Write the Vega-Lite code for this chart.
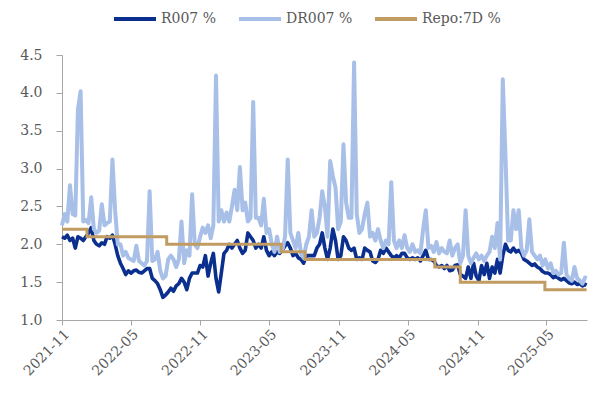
{
"$schema": "https://vega.github.io/schema/vega-lite/v6.json",
"width": 525, "height": 265,
"autosize": {"type": "none"},
"padding": {"left": 62, "top": 55, "right": 7, "bottom": 76},
"background": "white",
"config": {
 "view": {"stroke": null},
 "font": "DejaVu Serif",
 "axis": {"domainColor": "#a6a6a6", "tickColor": "#a6a6a6", "labelColor": "#595959", "labelFont": "DejaVu Serif", "labelFontSize": 14, "grid": false, "title": null}
},
"datasets": {
 "rates": [
{"d":"2021-11-12","r":2.10,"dr":2.25},{"d":"2021-11-19","r":2.08,"dr":2.40},{"d":"2021-11-26","r":2.12,"dr":2.30},{"d":"2021-12-03","r":2.05,"dr":2.78},
{"d":"2021-12-10","r":2.08,"dr":2.40},{"d":"2021-12-17","r":1.95,"dr":2.38},{"d":"2021-12-24","r":2.10,"dr":3.78},{"d":"2021-12-31","r":2.08,"dr":4.02},
{"d":"2022-01-07","r":2.05,"dr":2.30},{"d":"2022-01-14","r":2.10,"dr":2.32},{"d":"2022-01-21","r":2.15,"dr":2.28},{"d":"2022-01-28","r":2.22,"dr":2.62},
{"d":"2022-02-04","r":2.05,"dr":2.20},{"d":"2022-02-11","r":2.00,"dr":2.15},{"d":"2022-02-18","r":1.98,"dr":2.18},{"d":"2022-02-25","r":2.02,"dr":2.53},
{"d":"2022-03-04","r":2.00,"dr":2.25},{"d":"2022-03-11","r":2.10,"dr":2.28},{"d":"2022-03-18","r":2.08,"dr":2.30},{"d":"2022-03-25","r":2.12,"dr":3.12},
{"d":"2022-04-01","r":2.00,"dr":2.45},{"d":"2022-04-08","r":1.85,"dr":2.00},{"d":"2022-04-15","r":1.75,"dr":2.00},{"d":"2022-04-22","r":1.68,"dr":1.85},
{"d":"2022-04-29","r":1.60,"dr":1.90},{"d":"2022-05-06","r":1.65,"dr":1.82},{"d":"2022-05-13","r":1.62,"dr":1.80},{"d":"2022-05-20","r":1.65,"dr":1.78},
{"d":"2022-05-27","r":1.66,"dr":1.98},{"d":"2022-06-03","r":1.63,"dr":1.78},{"d":"2022-06-10","r":1.62,"dr":1.75},{"d":"2022-06-17","r":1.65,"dr":1.72},
{"d":"2022-06-24","r":1.68,"dr":1.78},{"d":"2022-07-01","r":1.68,"dr":2.70},{"d":"2022-07-08","r":1.55,"dr":1.78},{"d":"2022-07-15","r":1.52,"dr":1.80},
{"d":"2022-07-22","r":1.48,"dr":1.90},{"d":"2022-07-29","r":1.40,"dr":1.65},{"d":"2022-08-05","r":1.30,"dr":1.55},{"d":"2022-08-12","r":1.33,"dr":1.58},
{"d":"2022-08-19","r":1.37,"dr":1.80},{"d":"2022-08-26","r":1.42,"dr":1.85},{"d":"2022-09-02","r":1.38,"dr":1.80},{"d":"2022-09-09","r":1.45,"dr":1.70},
{"d":"2022-09-16","r":1.48,"dr":1.80},{"d":"2022-09-23","r":1.55,"dr":2.30},{"d":"2022-09-30","r":1.50,"dr":1.75},{"d":"2022-10-07","r":1.40,"dr":1.92},
{"d":"2022-10-14","r":1.55,"dr":1.85},{"d":"2022-10-21","r":1.62,"dr":2.66},{"d":"2022-10-28","r":1.62,"dr":2.00},{"d":"2022-11-04","r":1.62,"dr":1.95},
{"d":"2022-11-11","r":1.72,"dr":2.10},{"d":"2022-11-18","r":1.70,"dr":2.22},{"d":"2022-11-25","r":1.85,"dr":2.15},{"d":"2022-12-02","r":1.58,"dr":2.25},
{"d":"2022-12-09","r":1.75,"dr":2.08},{"d":"2022-12-16","r":1.88,"dr":2.25},{"d":"2022-12-23","r":1.55,"dr":4.23},{"d":"2022-12-30","r":1.37,"dr":2.30},
{"d":"2023-01-06","r":1.62,"dr":2.45},{"d":"2023-01-13","r":1.88,"dr":2.30},{"d":"2023-01-20","r":1.92,"dr":2.42},{"d":"2023-01-27","r":2.00,"dr":2.30},
{"d":"2023-02-03","r":1.95,"dr":2.50},{"d":"2023-02-10","r":2.00,"dr":2.72},{"d":"2023-02-17","r":2.05,"dr":2.45},{"d":"2023-02-24","r":1.95,"dr":3.02},
{"d":"2023-03-03","r":1.88,"dr":2.45},{"d":"2023-03-10","r":1.92,"dr":2.55},{"d":"2023-03-17","r":2.15,"dr":2.30},{"d":"2023-03-24","r":2.10,"dr":2.35},
{"d":"2023-03-31","r":2.05,"dr":3.88},{"d":"2023-04-07","r":1.95,"dr":2.35},{"d":"2023-04-14","r":2.00,"dr":2.35},{"d":"2023-04-21","r":1.95,"dr":2.25},
{"d":"2023-04-28","r":2.10,"dr":2.60},{"d":"2023-05-05","r":1.92,"dr":2.15},{"d":"2023-05-12","r":1.85,"dr":2.20},{"d":"2023-05-19","r":1.90,"dr":2.00},
{"d":"2023-05-26","r":1.85,"dr":1.90},{"d":"2023-06-02","r":1.90,"dr":2.10},{"d":"2023-06-09","r":1.88,"dr":1.90},{"d":"2023-06-16","r":1.92,"dr":1.92},
{"d":"2023-06-23","r":1.98,"dr":2.10},{"d":"2023-06-30","r":2.02,"dr":3.12},{"d":"2023-07-07","r":1.95,"dr":2.15},{"d":"2023-07-14","r":1.85,"dr":2.05},
{"d":"2023-07-21","r":1.88,"dr":1.95},{"d":"2023-07-28","r":1.82,"dr":2.15},{"d":"2023-08-04","r":1.80,"dr":1.88},{"d":"2023-08-11","r":1.75,"dr":1.82},
{"d":"2023-08-18","r":1.85,"dr":2.00},{"d":"2023-08-25","r":1.85,"dr":2.10},{"d":"2023-09-01","r":1.85,"dr":2.45},{"d":"2023-09-08","r":1.85,"dr":2.10},
{"d":"2023-09-15","r":1.95,"dr":2.15},{"d":"2023-09-22","r":2.00,"dr":2.35},{"d":"2023-09-29","r":2.15,"dr":2.70},{"d":"2023-10-06","r":1.95,"dr":2.50},
{"d":"2023-10-13","r":1.80,"dr":2.10},{"d":"2023-10-20","r":1.95,"dr":3.10},{"d":"2023-10-27","r":2.20,"dr":2.90},{"d":"2023-11-03","r":2.05,"dr":2.75},
{"d":"2023-11-10","r":1.80,"dr":2.20},{"d":"2023-11-17","r":1.85,"dr":2.30},{"d":"2023-11-24","r":2.10,"dr":3.32},{"d":"2023-12-01","r":2.05,"dr":2.55},
{"d":"2023-12-08","r":1.95,"dr":2.35},{"d":"2023-12-15","r":1.92,"dr":2.35},{"d":"2023-12-22","r":1.95,"dr":4.40},{"d":"2023-12-29","r":1.80,"dr":2.40},
{"d":"2024-01-05","r":1.82,"dr":2.15},{"d":"2024-01-12","r":1.80,"dr":2.20},{"d":"2024-01-19","r":1.95,"dr":2.40},{"d":"2024-01-26","r":1.92,"dr":2.55},
{"d":"2024-02-02","r":1.90,"dr":2.10},{"d":"2024-02-09","r":1.78,"dr":2.15},{"d":"2024-02-16","r":1.76,"dr":2.05},{"d":"2024-02-23","r":1.80,"dr":2.20},
{"d":"2024-03-01","r":1.92,"dr":2.05},{"d":"2024-03-08","r":1.88,"dr":1.95},{"d":"2024-03-15","r":1.95,"dr":2.05},{"d":"2024-03-22","r":1.90,"dr":2.00},
{"d":"2024-03-29","r":1.85,"dr":2.82},{"d":"2024-04-05","r":1.82,"dr":2.05},{"d":"2024-04-12","r":1.85,"dr":1.95},{"d":"2024-04-19","r":1.82,"dr":2.05},
{"d":"2024-04-26","r":1.88,"dr":1.95},{"d":"2024-05-03","r":1.88,"dr":2.12},{"d":"2024-05-10","r":1.82,"dr":1.95},{"d":"2024-05-17","r":1.80,"dr":1.90},
{"d":"2024-05-24","r":1.82,"dr":2.00},{"d":"2024-05-31","r":1.80,"dr":1.90},{"d":"2024-06-07","r":1.82,"dr":1.92},{"d":"2024-06-14","r":1.78,"dr":1.88},
{"d":"2024-06-21","r":1.85,"dr":2.20},{"d":"2024-06-28","r":1.92,"dr":2.45},{"d":"2024-07-05","r":1.80,"dr":1.95},{"d":"2024-07-12","r":1.80,"dr":1.98},
{"d":"2024-07-19","r":1.78,"dr":1.90},{"d":"2024-07-26","r":1.72,"dr":2.03},{"d":"2024-08-02","r":1.70,"dr":1.88},{"d":"2024-08-09","r":1.72,"dr":1.95},
{"d":"2024-08-16","r":1.68,"dr":1.90},{"d":"2024-08-23","r":1.72,"dr":1.88},{"d":"2024-08-30","r":1.65,"dr":2.05},{"d":"2024-09-06","r":1.66,"dr":1.85},
{"d":"2024-09-13","r":1.72,"dr":1.95},{"d":"2024-09-20","r":1.73,"dr":2.00},{"d":"2024-09-27","r":1.60,"dr":1.75},{"d":"2024-10-04","r":1.58,"dr":1.85},
{"d":"2024-10-11","r":1.55,"dr":2.45},{"d":"2024-10-18","r":1.70,"dr":1.85},{"d":"2024-10-25","r":1.55,"dr":1.75},{"d":"2024-11-01","r":1.75,"dr":1.82},
{"d":"2024-11-08","r":1.58,"dr":1.88},{"d":"2024-11-15","r":1.52,"dr":1.80},{"d":"2024-11-22","r":1.72,"dr":1.85},{"d":"2024-11-29","r":1.60,"dr":1.78},
{"d":"2024-12-06","r":1.75,"dr":1.85},{"d":"2024-12-13","r":1.55,"dr":1.90},{"d":"2024-12-20","r":1.70,"dr":2.10},{"d":"2024-12-27","r":1.62,"dr":1.95},
{"d":"2025-01-03","r":1.80,"dr":2.28},{"d":"2025-01-10","r":1.62,"dr":1.80},{"d":"2025-01-17","r":1.85,"dr":4.18},{"d":"2025-01-24","r":2.00,"dr":3.17},
{"d":"2025-01-31","r":1.92,"dr":2.05},{"d":"2025-02-07","r":1.90,"dr":2.05},{"d":"2025-02-14","r":1.95,"dr":2.45},{"d":"2025-02-21","r":1.90,"dr":2.20},
{"d":"2025-02-28","r":1.92,"dr":2.45},{"d":"2025-03-07","r":1.88,"dr":1.95},{"d":"2025-03-14","r":1.80,"dr":1.85},{"d":"2025-03-21","r":1.78,"dr":1.92},
{"d":"2025-03-28","r":1.75,"dr":2.33},{"d":"2025-04-04","r":1.72,"dr":1.90},{"d":"2025-04-11","r":1.74,"dr":1.85},{"d":"2025-04-18","r":1.70,"dr":1.80},
{"d":"2025-04-25","r":1.68,"dr":1.85},{"d":"2025-05-02","r":1.64,"dr":1.72},{"d":"2025-05-09","r":1.62,"dr":1.80},{"d":"2025-05-16","r":1.62,"dr":1.68},
{"d":"2025-05-23","r":1.60,"dr":1.75},{"d":"2025-05-30","r":1.56,"dr":1.62},{"d":"2025-06-06","r":1.58,"dr":1.65},{"d":"2025-06-13","r":1.55,"dr":1.60},
{"d":"2025-06-20","r":1.53,"dr":1.62},{"d":"2025-06-27","r":1.55,"dr":2.02},{"d":"2025-07-04","r":1.52,"dr":1.60},{"d":"2025-07-11","r":1.49,"dr":1.55},
{"d":"2025-07-18","r":1.48,"dr":1.52},{"d":"2025-07-25","r":1.50,"dr":1.70},{"d":"2025-08-01","r":1.47,"dr":1.55},{"d":"2025-08-08","r":1.48,"dr":1.52},
{"d":"2025-08-15","r":1.45,"dr":1.48},{"d":"2025-08-22","r":1.47,"dr":1.56},{"d":"2025-08-26","r":1.46,"dr":1.55}
 ],
 "repo": [
{"d":"2021-11-12","v":2.2},{"d":"2022-01-17","v":2.1},{"d":"2022-08-15","v":2.0},{"d":"2023-06-13","v":1.9},
{"d":"2023-08-15","v":1.8},{"d":"2024-07-22","v":1.7},{"d":"2024-09-27","v":1.5},{"d":"2025-05-08","v":1.4},{"d":"2025-08-26","v":1.4}
 ]
},
"encoding": {
 "x": {"field": "d", "type": "temporal",
  "scale": {"type": "utc", "domain": [{"year": 2021, "month": 11, "date": 12, "utc": true}, {"year": 2025, "month": 8, "date": 27, "utc": true}]},
  "axis": {"values": [
   {"year": 2021, "month": 11, "date": 12, "utc": true},
   {"year": 2022, "month": 5, "date": 12, "utc": true},
   {"year": 2022, "month": 11, "date": 12, "utc": true},
   {"year": 2023, "month": 5, "date": 12, "utc": true},
   {"year": 2023, "month": 11, "date": 12, "utc": true},
   {"year": 2024, "month": 5, "date": 12, "utc": true},
   {"year": 2024, "month": 11, "date": 12, "utc": true},
   {"year": 2025, "month": 5, "date": 12, "utc": true}],
   "format": "%Y-%m", "labelAngle": -45, "tickSize": 5, "labelPadding": 2}
 }
},
"layer": [
 {
  "data": {"name": "rates"},
  "mark": {"type": "line", "strokeWidth": 3.6, "strokeJoin": "round"},
  "encoding": {
   "y": {"field": "r", "type": "quantitative",
    "scale": {"domain": [1, 4.5], "nice": false, "zero": false},
    "axis": {"values": [1, 1.5, 2, 2.5, 3, 3.5, 4, 4.5], "format": ".1f", "tickSize": 6, "labelPadding": 14, "labelOverlap": false}},
   "color": {"datum": "R007 %",
    "scale": {"domain": ["R007 %", "DR007 %", "Repo:7D %"], "range": ["#0b2f8f", "#a8bfe8", "#c19c62"]},
    "legend": {"orient": "none", "legendX": 50, "legendY": -59, "direction": "horizontal", "title": null,
     "symbolType": "stroke", "symbolSize": 1764, "symbolStrokeWidth": 4, "labelFontSize": 14,
     "labelColor": "#595959", "labelFont": "DejaVu Serif", "columnPadding": 14, "labelOffset": 3}}
  }
 },
 {
  "data": {"name": "rates"},
  "mark": {"type": "line", "strokeWidth": 4, "strokeJoin": "round"},
  "encoding": {
   "y": {"field": "dr", "type": "quantitative",
    "scale": {"domain": [1, 4.5], "nice": false, "zero": false},
    "axis": {"values": [1, 1.5, 2, 2.5, 3, 3.5, 4, 4.5], "format": ".1f", "tickSize": 6, "labelPadding": 14, "labelOverlap": false}},
   "color": {"datum": "DR007 %"}
  }
 },
 {
  "data": {"name": "repo"},
  "mark": {"type": "line", "strokeWidth": 3, "interpolate": "step-after"},
  "encoding": {
   "y": {"field": "v", "type": "quantitative",
    "scale": {"domain": [1, 4.5], "nice": false, "zero": false},
    "axis": {"values": [1, 1.5, 2, 2.5, 3, 3.5, 4, 4.5], "format": ".1f", "tickSize": 6, "labelPadding": 14, "labelOverlap": false}},
   "color": {"datum": "Repo:7D %"}
  }
 }
]
}
